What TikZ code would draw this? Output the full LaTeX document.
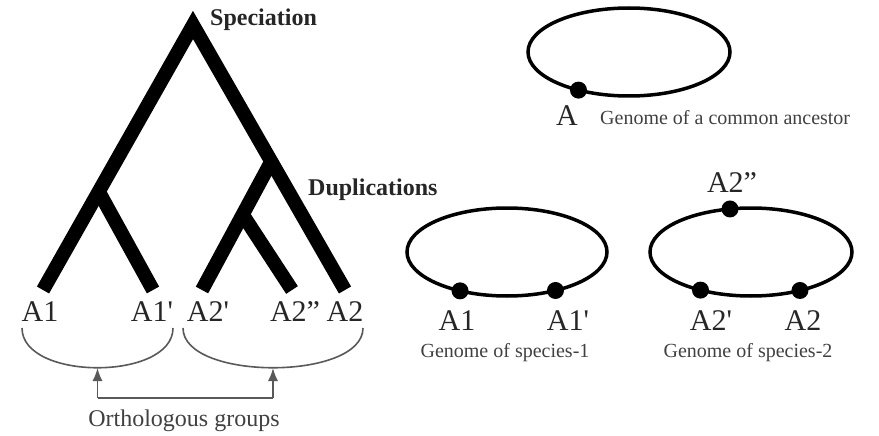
\documentclass[tikz,border=0pt]{standalone}
\usepackage{fontspec}
\setmainfont{Liberation Serif}
\usetikzlibrary{arrows.meta}
\begin{document}
\begin{tikzpicture}[x=1pt,y=-1pt,
  branch/.style={line width=14pt,line cap=butt,line join=miter},
  ring/.style={line width=3.5pt},
  gdot/.style={circle,fill=black,inner sep=0pt,minimum size=17pt},
  lbl/.style={inner sep=0pt,text=black!85,font=\fontsize{30}{30}\selectfont},
  small/.style={inner sep=0pt,text=black!75,font=\fontsize{20}{20}\selectfont},
  bold/.style={inner sep=0pt,text=black!85,font=\fontsize{24}{24}\selectfont\bfseries},
  thin/.style={line width=1.6pt,draw=black!65}]
\path[use as bounding box] (0,0) rectangle (879,436);
% tree points
\coordinate (top) at (193,25);
\coordinate (jl) at (99,192);
\coordinate (jr) at (271,162);
\coordinate (jr2) at (243,215);
\coordinate (l1) at (43,290);
\coordinate (l2) at (153,290);
\coordinate (l3) at (202,290);
\coordinate (l4) at (292,290);
\coordinate (l5) at (345,290);
\draw[branch] (l1) -- (top) -- (l5);
\draw[branch] (jl) -- (l2);
\draw[branch] (jr) -- (l3);
\draw[branch] (jr2) -- (l4);
\node[bold,anchor=west] (spec) at (210,20) {Speciation};
\node[bold,anchor=west] (dup) at (308,190) {Duplications};
% leaf labels
\node[lbl] (t1) at (40,312) {A1};
\node[lbl] (t2) at (152,312) {A1\textquotesingle};
\node[lbl] (t3) at (208,312) {A2\textquotesingle};
\node[lbl] (t4) at (295,312) {A2''};
\node[lbl] (t5) at (345,312) {A2};
% brackets
\coordinate (bl) at (97.5,368);
\coordinate (br) at (273,368);
\draw[thin] (22,328) .. controls (22,381) and (173,381) .. (173,328);
\draw[thin] (183,328) .. controls (183,381) and (363,381) .. (363,328);
\coordinate (cl) at (97.5,398);
\coordinate (cr) at (273,398);
\draw[thin,-{Latex[length=13pt,width=10pt]}] (cl) -- (bl);
\draw[thin,-{Latex[length=13pt,width=10pt]}] (cr) -- (br);
\draw[thin] (cl) -- (cr);
\node[inner sep=0pt,text=black!75,font=\fontsize{24}{24}\selectfont] (orth) at (184,421) {Orthologous groups};
% genomes
\coordinate (e0) at (629,52);
\coordinate (e1) at (507,252);
\coordinate (e2) at (751,252);
\draw[ring] (e0) ellipse [x radius=101,y radius=44];
\draw[ring] (e1) ellipse [x radius=100,y radius=44];
\draw[ring] (e2) ellipse [x radius=101,y radius=44];
\path (e0) ++(120:101 and 44) node[gdot] (dA) {};
\path (e1) ++(118:100 and 44) node[gdot] (dA1) {};
\path (e1) ++(61:100 and 44) node[gdot] (dA1p) {};
\path (e2) ++(258:101 and 44) node[gdot] (dA2pp) {};
\path (e2) ++(120:101 and 44) node[gdot] (dA2p) {};
\path (e2) ++(61:101 and 44) node[gdot] (dA2) {};
\node[lbl] (tA) at (567,116) {A};
\node[small,anchor=west] (g0) at (600,118) {Genome of a common ancestor};
\node[lbl] (tA1) at (457,321) {A1};
\node[lbl] (tA1p) at (568,321) {A1\textquotesingle};
\node[lbl] (tA2pp) at (732,183) {A2''};
\node[lbl] (tA2p) at (711,321) {A2\textquotesingle};
\node[lbl] (tA2) at (803,321) {A2};
\node[small] (g1) at (505,353) {Genome of species-1};
\node[small] (g2) at (748,353) {Genome of species-2};
\end{tikzpicture}
\end{document}
